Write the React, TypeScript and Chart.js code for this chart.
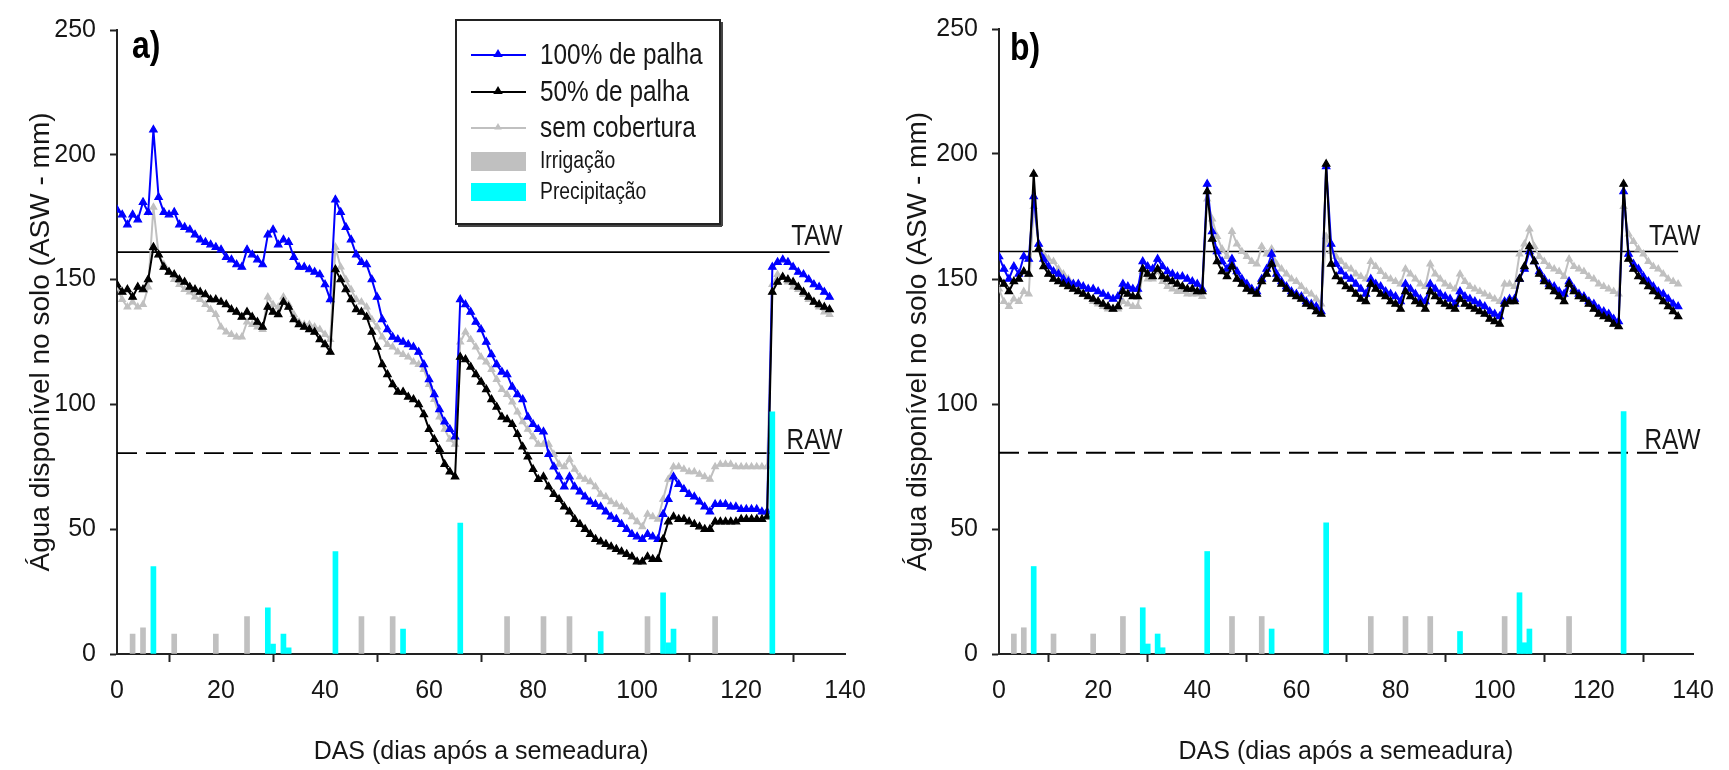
import React, { useEffect, useRef } from 'react';
import { Chart, registerables } from 'chart.js';
Chart.register(...registerables);

const SANS = "'Liberation Sans', Arial, sans-serif";

// ---- data ----
const TAW = 161;
const RAW = 80.5;
const LIMIT_END = 137;

const IRR_DAYS = [3, 5, 11, 19, 25, 47, 53, 75, 82, 87, 102, 115];
const IRR_MM = [8, 10.5, 8, 8, 15, 15, 15, 15, 15, 15, 15, 15];

const RAIN_DAYS = [7, 29, 30, 32, 33, 42, 55, 66, 93, 105, 106, 107, 126];
const RAIN_MM = [35, 18.5, 4, 8, 2.5, 41, 10, 52.5, 9, 24.5, 4.5, 10, 97];

// Panel a) daily ASW (mm), day 0..137
const A_100 = [
  178, 176, 172, 176, 174, 181, 177, 210, 183, 177,
  176, 177, 172, 171, 170, 168, 166, 165, 164, 163,
  162, 159, 158, 156, 155, 162, 160, 158, 156, 168,
  170, 164, 166, 165, 159, 155, 155, 154, 153, 152,
  148, 142, 182, 177, 171, 166, 160, 157, 156, 150,
  143, 134, 130, 127, 126, 125, 124, 123, 121, 116,
  110, 104, 98, 93, 90, 87, 142, 140, 137, 133,
  130, 125, 120, 116, 113, 112, 107, 104, 102, 95,
  92, 90, 89, 80, 75, 71, 67, 71, 67, 65,
  63, 61, 60, 59, 57, 55, 54, 52, 50, 48,
  47, 46, 48, 47, 46, 56, 62, 71, 68, 66,
  64, 63, 61, 59, 57, 60, 60, 60, 59, 59,
  58, 58, 58, 58, 57, 57, 155, 157, 158, 157,
  155, 153, 152, 150, 148, 147, 145, 143,
];
const A_50 = [
  148, 145, 146, 143, 147, 146, 150, 163, 160, 155,
  153, 152, 150, 149, 147, 146, 145, 144, 142, 142,
  141, 140, 138, 137, 135, 137, 135, 133, 131, 139,
  137, 136, 141, 139, 134, 132, 131, 130, 129, 126,
  124, 121, 154, 150, 146, 142, 138, 137, 135, 129,
  123, 116, 112, 108, 105, 105, 103, 102, 100, 96,
  90, 86, 82, 76, 73, 71, 119, 118, 115, 112,
  109, 106, 102, 99, 95, 94, 92, 88, 83, 79,
  74, 70, 71, 67, 64, 62, 59, 57, 54, 52,
  50, 48, 46, 45, 44, 43, 42, 41, 40, 39,
  37, 37, 39, 38, 38, 46, 53, 55, 54, 54,
  53, 52, 51, 50, 50, 53, 53, 53, 53, 53,
  54, 54, 54, 54, 54, 55, 145, 149, 151, 150,
  149, 147, 145, 143, 141, 140, 139, 138,
];
const A_0 = [
  147, 142, 139, 141, 139, 140, 147, 179, 160, 156,
  153, 150, 148, 146, 145, 143, 142, 140, 138, 136,
  131, 129, 128, 127, 127, 133, 132, 131, 130, 143,
  140, 139, 143, 140, 136, 133, 132, 132, 131, 130,
  128, 126, 163, 155, 150, 146, 142, 141, 139, 134,
  131, 127, 124, 123, 121, 120, 119, 117, 116, 114,
  108, 102, 95, 90, 86, 84, 125, 129, 126, 123,
  119, 117, 114, 110, 106, 104, 101, 97, 93, 90,
  87, 84, 84, 84, 80, 76, 75, 78, 74, 71,
  70, 69, 67, 64, 63, 61, 60, 59, 57, 55,
  53, 51, 56, 55, 54, 62, 70, 75, 75, 74,
  73, 73, 72, 71, 70, 75, 76, 76, 76, 75,
  75, 75, 75, 75, 75, 75, 148, 152, 151, 149,
  147, 146, 144, 142, 141, 139, 137, 136,
];

// Panel b) daily ASW (mm), day 0..137
const B_100 = [
  159, 154, 150, 155, 152, 159, 158, 183, 164, 158,
  155, 153, 152, 150, 149, 148, 148, 147, 146, 146,
  145, 144, 143, 142, 143, 148, 147, 146, 146, 157,
  155, 154, 158, 155, 153, 152, 151, 151, 150, 149,
  148, 146, 188, 169, 161, 157, 154, 158, 153, 150,
  148, 146, 145, 150, 154, 160, 152, 149, 147, 145,
  144, 143, 141, 140, 139, 137, 195, 164, 156, 153,
  151, 150, 148, 146, 144, 150, 148, 147, 145, 144,
  143, 141, 148, 146, 144, 142, 141, 148, 146, 144,
  143, 142, 140, 145, 143, 142, 141, 140, 139, 137,
  136, 135, 141, 142, 142, 150, 154, 161, 157, 153,
  150, 148, 147, 145, 144, 149, 146, 144, 143, 141,
  140, 138, 137, 136, 134, 133, 185, 160, 156, 154,
  151, 149, 147, 145, 144, 142, 140, 139,
];
const B_50 = [
  150, 148, 145, 149, 150, 153, 152, 192, 162, 155,
  152, 150, 149, 148, 147, 146, 145, 144, 143, 142,
  141, 140, 139, 138, 139, 145, 144, 143, 143, 154,
  152, 151, 154, 151, 150, 149, 148, 147, 146, 146,
  145, 145, 185, 166, 157, 153, 151, 155, 150, 148,
  146, 145, 144, 149, 152, 156, 150, 148, 146, 144,
  143, 142, 140, 139, 137, 136, 196, 156, 151, 149,
  147, 146, 144, 142, 141, 148, 146, 144, 143, 141,
  140, 138, 145, 143, 141, 140, 138, 145, 143, 141,
  140, 139, 138, 142, 140, 139, 138, 137, 136, 134,
  133, 132, 140, 141, 141, 150, 155, 163, 157, 152,
  149, 147, 145, 143, 141, 148, 145, 143, 142, 140,
  138, 136, 135, 134, 132, 131, 188, 158, 154, 151,
  149, 147, 145, 143, 141, 139, 137, 135,
];
const B_0 = [
  146, 141, 139, 142, 141, 145, 144, 179, 164, 160,
  158, 157, 154, 152, 150, 148, 146, 144, 143, 141,
  140, 139, 138, 138, 138, 141, 140, 139, 139, 153,
  150, 150, 153, 149, 147, 146, 145, 145, 144, 144,
  144, 143, 182, 174, 167, 162, 159, 169, 164, 161,
  159, 157, 156, 163, 160, 162, 156, 154, 152, 150,
  149, 147, 145, 144, 142, 140, 167, 161, 159, 157,
  155, 154, 152, 151, 150, 157, 155, 153, 151, 150,
  149, 148, 154, 152, 150, 148, 147, 156, 152, 150,
  148, 147, 146, 152, 149, 147, 146, 145, 144, 143,
  142, 141, 148, 148, 147, 160, 164, 170, 163, 159,
  157, 155, 154, 153, 151, 158, 155, 154, 153, 151,
  150, 148, 147, 146, 145, 144, 179, 168, 165, 162,
  160, 157, 155, 154, 152, 150, 149, 148,
];

const X_TICKS = [0, 20, 40, 60, 80, 100, 120, 140];
const Y_TICKS = [0, 50, 100, 150, 200, 250];

const SERIES_LABELS = ['100% de palha', '50% de palha', 'sem cobertura'];
const BAR_LABELS = ['Irrigação', 'Precipitação'];
const Y_TITLE = 'Água disponível no solo (ASW - mm)';
const X_TITLE = 'DAS (dias após a semeadura)';

// ---- styles ----
const BLUE = '#0000FF';
const BLACK = '#000000';
const LGRAY = '#C0C0C0';
const CYAN = '#00FFFF';
const INK = '#161616';
const SQUEEZE = 0.84;

type Panel = {
  letter: string;
  s100: number[];
  s50: number[];
  s0: number[];
  width: number;
  padTop: number;
  padRight: number;
  yWidth: number;
  yTitlePad: number;
  letterDx: number;
  letterDy: number;
  labelX: number;
  legend: boolean;
};

const PANEL_A: Panel = {
  letter: 'a)', s100: A_100, s50: A_50, s0: A_0,
  width: 880, padTop: 30, padRight: 33, yWidth: 117, yTitlePad: 24,
  letterDx: 15, letterDy: 28, labelX: 139.5, legend: true,
};
const PANEL_B: Panel = {
  letter: 'b)', s100: B_100, s50: B_50, s0: B_0,
  width: 849, padTop: 21, padRight: 36, yWidth: 119, yTitlePad: 21,
  letterDx: 11, letterDy: 31, labelX: 141.5, legend: false,
};

const pts = (vals: number[]) => vals.map((v, i) => ({ x: i, y: v }));
const barPts = (days: number[], mm: number[]) => days.map((d, i) => ({ x: d, y: mm[i] }));

function narrowText(
  ctx: CanvasRenderingContext2D, text: string, x: number, y: number,
  font: string, align: CanvasTextAlign, baseline: CanvasTextBaseline, color: string,
) {
  ctx.save();
  ctx.translate(x, y);
  ctx.scale(SQUEEZE, 1);
  ctx.font = font;
  ctx.textAlign = align;
  ctx.textBaseline = baseline;
  ctx.fillStyle = color;
  ctx.fillText(text, 0, 0);
  ctx.restore();
}

function triangle(ctx: CanvasRenderingContext2D, x: number, y: number, r: number, color: string) {
  ctx.beginPath();
  ctx.moveTo(x, y - r);
  ctx.lineTo(x + r * 0.95, y + r * 0.6);
  ctx.lineTo(x - r * 0.95, y + r * 0.6);
  ctx.closePath();
  ctx.fillStyle = color;
  ctx.fill();
}

function drawLegend(ctx: CanvasRenderingContext2D) {
  const bx = 456, by = 20, bw = 264, bh = 204;
  ctx.fillStyle = '#fff';
  ctx.fillRect(bx, by, bw, bh);
  ctx.strokeStyle = '#222';
  ctx.lineWidth = 2;
  ctx.strokeRect(bx, by, bw, bh);
  ctx.fillStyle = '#444';
  ctx.fillRect(bx + bw + 1, by + 2, 2, bh);
  ctx.fillRect(bx + 2, by + bh + 1, bw, 2);

  const lineColors = [BLUE, BLACK, LGRAY];
  const rows = [55, 92, 128];
  rows.forEach((ry, i) => {
    ctx.strokeStyle = lineColors[i];
    ctx.lineWidth = 2;
    ctx.beginPath();
    ctx.moveTo(471, ry);
    ctx.lineTo(526, ry);
    ctx.stroke();
    triangle(ctx, 498, ry - 1, i === 2 ? 4 : 5, lineColors[i]);
    narrowText(ctx, SERIES_LABELS[i], 540, ry + 1, `29px ${SANS}`, 'left', 'middle', INK);
  });
  ctx.fillStyle = LGRAY;
  ctx.fillRect(471, 152, 55, 19);
  ctx.fillStyle = CYAN;
  ctx.fillRect(471, 183, 55, 18);
  narrowText(ctx, BAR_LABELS[0], 540, 162, `23px ${SANS}`, 'left', 'middle', INK);
  narrowText(ctx, BAR_LABELS[1], 540, 193, `23px ${SANS}`, 'left', 'middle', INK);
}

function buildConfig(p: Panel): any {
  const overlay = {
    id: 'overlay',
    afterDatasetsDraw(chart: any) {
      const { ctx, chartArea, scales } = chart;
      ctx.save();
      narrowText(ctx, p.letter, chartArea.left + p.letterDx, chartArea.top + p.letterDy,
        `bold 38px ${SANS}`, 'left', 'alphabetic', '#000');
      const lx = scales.x.getPixelForValue(p.labelX);
      narrowText(ctx, 'TAW', lx, scales.y.getPixelForValue(TAW) - 7, `29px ${SANS}`, 'right', 'alphabetic', INK);
      narrowText(ctx, 'RAW', lx, scales.y.getPixelForValue(RAW) - 4, `29px ${SANS}`, 'right', 'alphabetic', INK);
      if (p.legend) drawLegend(ctx);
      ctx.restore();
    },
  };

  const lineDs = (label: string, data: number[], color: string, r: number, order: number) => ({
    type: 'line',
    label,
    data: pts(data),
    borderColor: color,
    backgroundColor: color,
    borderWidth: 2,
    pointStyle: 'triangle',
    pointRadius: r,
    pointBorderWidth: 1.2,
    pointBackgroundColor: color,
    pointBorderColor: color,
    order,
  });

  return {
    type: 'line',
    data: {
      datasets: [
        {
          type: 'bar', label: BAR_LABELS[1], data: barPts(RAIN_DAYS, RAIN_MM),
          backgroundColor: CYAN, borderWidth: 0, barThickness: 5, grouped: false, order: 0,
        },
        {
          type: 'bar', label: BAR_LABELS[0], data: barPts(IRR_DAYS, IRR_MM),
          backgroundColor: LGRAY, borderWidth: 0, barThickness: 5, grouped: false, order: 0,
        },
        lineDs(SERIES_LABELS[1], p.s50, BLACK, 4.3, 2),
        lineDs(SERIES_LABELS[0], p.s100, BLUE, 4.3, 3),
        lineDs(SERIES_LABELS[2], p.s0, LGRAY, 3.8, 4),
        {
          type: 'line', label: 'TAW', data: [{ x: 0, y: TAW }, { x: LIMIT_END, y: TAW }],
          borderColor: '#000', borderWidth: 1.6, pointRadius: 0, order: 5,
        },
        {
          type: 'line', label: 'RAW', data: [{ x: 0, y: RAW }, { x: LIMIT_END, y: RAW }],
          borderColor: '#000', borderWidth: 1.8, borderDash: [20, 9], pointRadius: 0, order: 5,
        },
      ],
    },
    options: {
      responsive: false,
      animation: false,
      events: [],
      layout: { padding: { top: p.padTop, right: p.padRight, left: 0, bottom: 0 } },
      elements: { line: { tension: 0 } },
      plugins: { legend: { display: false }, tooltip: { enabled: false } },
      scales: {
        x: {
          type: 'linear', min: 0, max: 140, offset: false,
          afterBuildTicks: (s: any) => { s.ticks = X_TICKS.map((v) => ({ value: v })); },
          afterFit: (s: any) => { s.height = 116; },
          ticks: { color: INK, font: { family: SANS, size: 25 }, padding: 14, maxRotation: 0, autoSkip: false },
          grid: { drawOnChartArea: false, drawTicks: true, tickLength: 8, tickWidth: 2, tickColor: '#222' },
          border: { display: true, color: '#222', width: 2 },
          title: {
            display: true, text: X_TITLE, color: INK,
            font: { family: SANS, size: 25 }, padding: { top: 0, bottom: 3 },
          },
        },
        y: {
          type: 'linear', min: 0, max: 250,
          afterBuildTicks: (s: any) => { s.ticks = Y_TICKS.map((v) => ({ value: v })); },
          afterFit: (s: any) => { s.width = p.yWidth; },
          ticks: { color: INK, font: { family: SANS, size: 25 }, padding: 14 },
          grid: { drawOnChartArea: false, drawTicks: true, tickLength: 7, tickWidth: 2, tickColor: '#222' },
          border: { display: true, color: '#222', width: 2 },
          title: {
            display: true, text: Y_TITLE, color: INK,
            font: { family: SANS, size: 28 }, padding: { top: p.yTitlePad, bottom: 0 },
          },
        },
      },
    },
    plugins: [overlay],
  };
}

export default function App() {
  const refA = useRef<HTMLCanvasElement>(null);
  const refB = useRef<HTMLCanvasElement>(null);
  useEffect(() => {
    const a = new Chart(refA.current as HTMLCanvasElement, buildConfig(PANEL_A));
    const b = new Chart(refB.current as HTMLCanvasElement, buildConfig(PANEL_B));
    return () => { a.destroy(); b.destroy(); };
  }, []);
  return (
    <div style={{ position: 'absolute', left: 0, top: 0, width: 1729, height: 770, background: '#fff' }}>
      <canvas ref={refA} width={PANEL_A.width} height={770}
        style={{ position: 'absolute', left: 0, top: 0, width: PANEL_A.width, height: 770 }} />
      <canvas ref={refB} width={PANEL_B.width} height={770}
        style={{ position: 'absolute', left: 880, top: 0, width: PANEL_B.width, height: 770 }} />
    </div>
  );
}
